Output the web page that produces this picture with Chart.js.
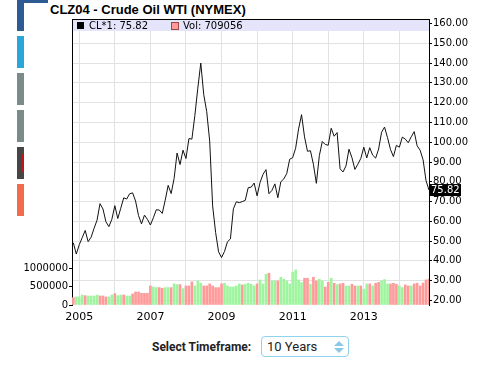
<!DOCTYPE html>
<html>
<head>
<meta charset="utf-8">
<script src="https://cdn.jsdelivr.net/npm/chart.js@4.4.1/dist/chart.umd.min.js"></script>
<style>
  body { margin: 0; width: 480px; height: 366px; position: relative; overflow: hidden; background: #fff; }
  .deco { position: absolute; left: 17px; width: 7px; height: 32px; }
  #title { position: absolute; left: 50px; top: 2px; font: bold 13px "Liberation Sans", Arial, sans-serif; color: #000; }
  #c { position: absolute; left: 0; top: 0; }
  #tf { position: absolute; left: 152px; top: 336px; height: 22px; font-family: Roboto, sans-serif; }
  #tf .lbl { position: absolute; left: 0; top: 4px; font-weight: bold; font-size: 12px; color: #222; white-space: nowrap; }
  #tf .sel { position: absolute; left: 109px; top: 0; width: 81px; height: 19px; border: 1px solid #8fd3ee; border-radius: 4px;
             font-size: 13px; line-height: 19px; padding-left: 5px; box-sizing: content-box; color: #222; }
  .up, .dn { position: absolute; right: 4px; width: 0; height: 0; border-left: 5px solid transparent; border-right: 5px solid transparent; }
  .up { top: 4px; border-bottom: 5px solid #8cc8e6; }
  .dn { top: 11px; border-top: 5px solid #8cc8e6; }
</style>
</head>
<body>
<div class="deco" style="top:0;height:31px;background:#2f5b95"></div>
<div class="deco" style="top:0;width:31px;height:3px;background:#2f5b95"></div>
<div class="deco" style="top:36px;background:#2aa7d8"></div>
<div class="deco" style="top:73px;background:#7a8b8a"></div>
<div class="deco" style="top:110px;background:#7a8b8a"></div>
<div class="deco" style="top:147px;background:#464646"></div>
<div class="deco" style="top:154px;left:21px;width:3px;height:18px;background:#c0141a"></div>
<div class="deco" style="top:184px;background:#f26b4d"></div>
<div id="title">CLZ04 - Crude Oil WTI (NYMEX)</div>
<canvas id="c" width="480" height="330"></canvas>
<div id="tf"><span class="lbl">Select Timeframe:</span><div class="sel">10 Years<span class="up"></span><span class="dn"></span></div></div>
<script>
// monthly closes, Nov 2004 .. Nov 2014
const closes = [
  49.13, 43.45,
  48.20, 51.75, 55.40, 49.72, 51.97, 56.50, 60.57, 68.94, 66.24, 59.76, 57.32, 61.04,
  67.92, 61.41, 66.63, 71.88, 71.29, 73.93, 74.40, 70.26, 62.91, 58.73, 63.13, 61.05,
  58.14, 61.79, 65.87, 65.71, 64.01, 70.68, 78.21, 74.04, 81.66, 94.53, 88.71, 95.98,
  91.75, 101.84, 101.58, 113.46, 127.35, 140.00, 124.08, 115.46, 100.64, 67.81, 54.43, 44.60,
  41.68, 44.76, 49.66, 51.12, 66.31, 69.89, 69.45, 69.96, 70.61, 77.00, 77.28, 79.36,
  72.89, 79.66, 83.76, 86.15, 73.97, 75.63, 78.95, 71.92, 79.97, 81.43, 84.11, 91.38,
  92.19, 96.97, 106.72, 113.93, 102.70, 95.42, 95.70, 88.81, 79.20, 93.19, 100.36, 98.83,
  98.48, 107.07, 103.02, 104.87, 86.53, 84.96, 88.06, 96.47, 92.19, 86.24, 88.91, 91.82,
  97.49, 92.05, 97.23, 93.46, 91.97, 96.56, 105.03, 107.65, 102.33, 96.38, 92.72, 98.42,
  97.49, 102.59, 101.58, 99.74, 102.71, 105.37, 98.17, 95.96, 91.16, 80.54, 75.82
];
const volumes = [
  200000, 219000, 219000, 273000, 255000, 246000, 246000, 246000, 273000, 246000, 246000, 219000,
  219000, 273000, 310000, 255000, 273000, 273000, 246000, 246000, 300000, 355000, 355000, 319000,
  319000, 319000, 519000, 492000, 474000, 474000, 455000, 474000, 474000, 474000, 574000, 556000,
  556000, 446000, 519000, 519000, 628000, 519000, 656000, 592000, 519000, 519000, 574000, 519000,
  474000, 474000, 574000, 592000, 519000, 492000, 492000, 519000, 574000, 546000, 565000, 592000,
  565000, 519000, 574000, 683000, 574000, 838000, 865000, 656000, 656000, 656000, 756000, 701000,
  656000, 574000, 892000, 956000, 683000, 610000, 729000, 729000, 565000, 756000, 656000, 701000,
  656000, 492000, 619000, 729000, 592000, 556000, 574000, 592000, 519000, 519000, 565000, 519000,
  519000, 519000, 428000, 574000, 574000, 519000, 592000, 619000, 656000, 692000, 574000, 574000,
  592000, 565000, 519000, 474000, 546000, 519000, 519000, 574000, 592000, 519000, 601000, 683000,
  709056
];
// 1 = green bar, 0 = red bar
const volUp = [
  0,1,1,1,0,1,1,1,1,0,0,0,
  1,1,0,1,1,0,1,1,0,0,0,0,
  0,0,0,1,1,0,0,1,1,0,1,1,
  0,1,0,0,0,1,1,1,0,0,0,0,
  0,0,0,1,1,1,1,1,1,0,1,1,
  1,1,0,1,1,1,0,1,1,0,1,1,
  1,1,1,1,1,1,0,0,1,0,0,1,
  1,0,0,1,0,1,0,0,1,1,0,0,
  1,0,1,1,0,1,0,0,1,1,1,0,
  0,0,1,1,0,0,1,0,0,0,0,0,
  0
];
const years = [2005, 2006, 2007, 2008, 2009, 2010, 2011, 2012, 2013, 2014];
const yearLabels = ['2005', '', '2007', '', '2009', '', '2011', '', '2013', ''];
const priceTicks = [20, 30, 40, 50, 60, 70, 80, 90, 100, 110, 120, 130, 140, 150, 160];
const volTicks = [0, 500000, 1000000];
const seriesName = 'CL*1';

// month index counted from Nov 2004
const monthIndex = (y, m) => (y - 2004) * 12 + (m - 11);

Chart.defaults.font.family = '"DejaVu Sans", sans-serif';
Chart.defaults.font.size = 10;
Chart.defaults.color = '#000';

const overlay = {
  id: 'overlay',
  beforeDatasetsDraw(chart) {
    const { ctx, chartArea: a } = chart;
    ctx.save();
    ctx.fillStyle = '#e4e4fa';
    ctx.fillRect(a.left + 1, a.top + 1, a.right - a.left - 1, 11);
    ctx.restore();
  },
  afterDraw(chart) {
    const { ctx, chartArea: a } = chart;
    ctx.save();
    // top frame line
    ctx.strokeStyle = '#000';
    ctx.lineWidth = 1;
    ctx.beginPath();
    ctx.moveTo(a.left, a.top + 0.5);
    ctx.lineTo(a.right + 1, a.top + 0.5);
    ctx.stroke();
    // legend
    const lastClose = closes[closes.length - 1];
    const lastVol = volumes[volumes.length - 1];
    ctx.font = '10px "DejaVu Sans"';
    ctx.textBaseline = 'middle';
    ctx.fillStyle = '#000';
    ctx.fillRect(a.left + 5, a.top + 3, 7, 7);
    ctx.fillText(seriesName + ': ' + lastClose.toFixed(2), a.left + 17, a.top + 7);
    ctx.fillStyle = '#ff9a9a';
    ctx.fillRect(a.left + 99.5, a.top + 3.5, 7, 7);
    ctx.strokeStyle = '#a04848';
    ctx.strokeRect(a.left + 99.5, a.top + 3.5, 7, 7);
    ctx.fillStyle = '#000';
    ctx.fillText('Vol: ' + lastVol, a.left + 111, a.top + 7);
    // last price tag
    const py = chart.scales.price.getPixelForValue(lastClose);
    ctx.fillStyle = '#000';
    ctx.fillRect(a.right + 1, py - 6, 31, 12);
    ctx.fillStyle = '#fff';
    ctx.fillText(lastClose.toFixed(2), a.right + 2, py);
    ctx.restore();
  }
};

new Chart(document.getElementById('c'), {
  type: 'line',
  data: {
    datasets: [
      {
        type: 'line',
        yAxisID: 'price',
        data: closes.map((c, i) => ({ x: i, y: c })),
        borderColor: '#111',
        borderWidth: 1,
        pointRadius: 0,
        tension: 0,
        order: 0,
      },
      {
        type: 'bar',
        yAxisID: 'vol',
        data: volumes.map((v, i) => ({ x: i, y: v })),
        backgroundColor: volUp.map(u => (u ? '#9ff59f' : '#ff9a9a')),
        barThickness: 2,
        order: 1,
      },
    ],
  },
  options: {
    responsive: false,
    devicePixelRatio: 1,
    animation: false,
    layout: { padding: { top: 19, left: 0, right: 0, bottom: 0 } },
    plugins: { legend: { display: false }, tooltip: { enabled: false } },
    scales: {
      x: {
        type: 'linear',
        offset: false,
        min: -0.45,
        max: 120,
        grid: { color: '#e2e2e2', drawTicks: false, offset: false },
        border: { display: false },
        afterBuildTicks: s => { s.ticks = years.map(y => ({ value: monthIndex(y, 1) })); },
        afterFit: s => { s.height = 25; },
        ticks: {
          autoSkip: false,
          maxRotation: 0,
          padding: 6,
          font: { size: 11 },
          callback: (v, i) => yearLabels[i],
        },
      },
      vol: {
        position: 'left',
        min: 0,
        max: 7790000,
        grid: { drawOnChartArea: false, tickColor: '#000', tickLength: 3 },
        border: { color: '#000' },
        afterBuildTicks: s => { s.ticks = volTicks.map(v => ({ value: v })); },
        afterFit: s => { s.width = 72; },
        ticks: { padding: 1, callback: v => String(v) },
      },
      price: {
        position: 'right',
        min: 17.7,
        max: 162.3,
        grid: { color: '#e2e2e2', tickColor: '#000', tickLength: 3 },
        border: { color: '#000' },
        afterBuildTicks: s => { s.ticks = priceTicks.map(v => ({ value: v })); },
        afterFit: s => { s.width = 51; },
        ticks: { padding: 1, callback: v => v.toFixed(2) },
      },
    },
  },
  plugins: [overlay],
});
</script>
</body>
</html>
